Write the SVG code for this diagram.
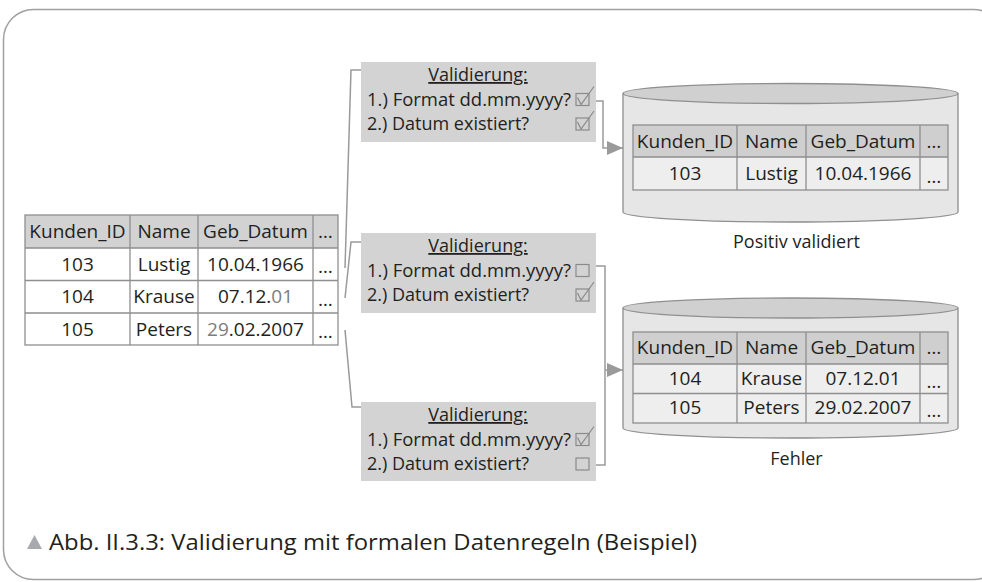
<svg xmlns="http://www.w3.org/2000/svg" width="982" height="582" viewBox="0 0 982 582">
<defs>
<style>
text{font-family:"Open Sans","Noto Sans","Liberation Sans",sans-serif;fill:#231f20;}
.t{font-size:19px;text-anchor:middle}
.v{font-size:18px}
.vt{font-size:18px;text-anchor:middle;text-decoration:underline}
.lbl{font-size:18px;text-anchor:middle}
.cap{font-size:22.5px}
.grid{stroke:#8f8f8f;stroke-width:1.3;fill:none}
.hdr{fill:#d2d2d2}
.hdr2{fill:#cfcfcf}
.row2{fill:#eeeeee}
.con{stroke:#9a9a9a;stroke-width:1.5;fill:none}
.box{fill:#d3d3d3}
.cb{fill:none;stroke:#8a8a8a;stroke-width:1.2}
.gr{fill:#7d7d7d}
.cylbody{fill:#e6e6e6;stroke:#8f8f8f;stroke-width:1.3}
.cyltop{fill:#d0d0d0;stroke:#8f8f8f;stroke-width:1.3}
</style>
<marker id="arr" markerUnits="userSpaceOnUse" markerWidth="16" markerHeight="14" refX="16" refY="7" orient="auto">
<path d="M0,0 L16,7 L0,14 z" fill="#9a9a9a"/>
</marker>
<g id="cbx"><rect x="0" y="-12" width="13" height="12" class="cb"/></g>
<g id="chk"><rect x="0" y="-12" width="13" height="12" class="cb"/><path d="M1.5,-8 L5,-1 L18,-19" class="cb"/></g>
</defs>

<rect x="3.5" y="9.5" width="1000" height="570" rx="30" fill="none" stroke="#a0a0a0" stroke-width="1.5"/>

<g id="connectors">
<path class="con" d="M345,268 L351,70 H361"/>
<path class="con" d="M345,298 L351,242 H361"/>
<path class="con" d="M345,330 L352,407 H361"/>
<path class="con" d="M596,101 H603 V148 H623" marker-end="url(#arr)"/>
<path class="con" d="M596,266 H605 V465 H596"/>
<path class="con" d="M605,370 H623" marker-end="url(#arr)"/>
</g>

<g id="source-table">
<rect x="25" y="215" width="313" height="33" class="hdr"/>
<rect x="25" y="248" width="313" height="97" fill="#ffffff"/>
<rect x="25" y="215" width="313" height="130" class="grid"/>
<path class="grid" d="M25,248 H338 M25,280.5 H338 M25,313 H338 M130,215 V345 M198,215 V345 M313,215 V345"/>
<text class="t" x="77.5" y="238">Kunden_ID</text>
<text class="t" x="164" y="238">Name</text>
<text class="t" x="255.5" y="238">Geb_Datum</text>
<text class="t" x="325.5" y="238">…</text>
<text class="t" x="77.5" y="271">103</text>
<text class="t" x="164" y="271">Lustig</text>
<text class="t" x="255.5" y="271">10.04.1966</text>
<text class="t" x="325.5" y="273">…</text>
<text class="t" x="77.5" y="303">104</text>
<text class="t" x="164" y="303">Krause</text>
<text class="t" x="255.5" y="303">07.12.<tspan class="gr">01</tspan></text>
<text class="t" x="325.5" y="306">…</text>
<text class="t" x="77.5" y="336">105</text>
<text class="t" x="164" y="336">Peters</text>
<text class="t" x="255.5" y="336"><tspan class="gr">29</tspan>.02.2007</text>
<text class="t" x="325.5" y="338">…</text>
</g>

<g id="validation-1">
<rect x="361" y="62" width="235" height="80" class="box"/>
<text class="vt" x="478" y="81">Validierung:</text>
<text class="v" x="367" y="105.5" textLength="204" lengthAdjust="spacingAndGlyphs">1.) Format dd.mm.yyyy?</text>
<text class="v" x="367" y="130">2.) Datum existiert?</text>
<use href="#chk" x="576" y="105.5"/>
<use href="#chk" x="576" y="130"/>
</g>

<g id="validation-2">
<rect x="361" y="233" width="235" height="80" class="box"/>
<text class="vt" x="478" y="252">Validierung:</text>
<text class="v" x="367" y="276.5" textLength="204" lengthAdjust="spacingAndGlyphs">1.) Format dd.mm.yyyy?</text>
<text class="v" x="367" y="301">2.) Datum existiert?</text>
<use href="#cbx" x="576" y="276.5"/>
<use href="#chk" x="576" y="301"/>
</g>

<g id="validation-3">
<rect x="361" y="402" width="235" height="79" class="box"/>
<text class="vt" x="478" y="421">Validierung:</text>
<text class="v" x="367" y="445.5" textLength="204" lengthAdjust="spacingAndGlyphs">1.) Format dd.mm.yyyy?</text>
<text class="v" x="367" y="470">2.) Datum existiert?</text>
<use href="#chk" x="576" y="445.5"/>
<use href="#cbx" x="576" y="470"/>
</g>

<g id="db-positive">
<path class="cylbody" d="M623,93.5 V212 A167.5,10 0 0 0 958,212 V93.5"/>
<ellipse class="cyltop" cx="790.5" cy="93.5" rx="167.5" ry="10"/>
<rect x="633" y="125" width="315" height="32" class="hdr2"/>
<rect x="633" y="157" width="315" height="33" class="row2"/>
<rect x="633" y="125" width="315" height="65" class="grid"/>
<path class="grid" d="M633,157 H948 M737,125 V190 M806,125 V190 M920,125 V190"/>
<text class="t" x="685" y="148">Kunden_ID</text>
<text class="t" x="771.5" y="148">Name</text>
<text class="t" x="863" y="148">Geb_Datum</text>
<text class="t" x="934" y="148">…</text>
<text class="t" x="685" y="180">103</text>
<text class="t" x="771.5" y="180">Lustig</text>
<text class="t" x="863" y="180">10.04.1966</text>
<text class="t" x="934" y="183">…</text>
<text class="lbl" x="796.5" y="248">Positiv validiert</text>
</g>

<g id="db-error">
<path class="cylbody" d="M623,308 V428 A167.5,10 0 0 0 958,428 V308"/>
<ellipse class="cyltop" cx="790.5" cy="308" rx="167.5" ry="10"/>
<rect x="633" y="332" width="315" height="32" class="hdr2"/>
<rect x="633" y="364" width="315" height="59" class="row2"/>
<rect x="633" y="332" width="315" height="91" class="grid"/>
<path class="grid" d="M633,364 H948 M633,393.5 H948 M737,332 V423 M806,332 V423 M920,332 V423"/>
<text class="t" x="685" y="354">Kunden_ID</text>
<text class="t" x="771.5" y="354">Name</text>
<text class="t" x="863" y="354">Geb_Datum</text>
<text class="t" x="934" y="354">…</text>
<text class="t" x="685" y="385">104</text>
<text class="t" x="771.5" y="385">Krause</text>
<text class="t" x="863" y="385">07.12.01</text>
<text class="t" x="934" y="388">…</text>
<text class="t" x="685" y="414">105</text>
<text class="t" x="771.5" y="414">Peters</text>
<text class="t" x="863" y="414">29.02.2007</text>
<text class="t" x="934" y="417">…</text>
<text class="lbl" x="796.5" y="465">Fehler</text>
</g>

<g id="caption">
<polygon points="27,549 34.5,535 42,549" fill="#a7a9ac"/>
<text class="cap" x="49" y="550" textLength="648" lengthAdjust="spacingAndGlyphs">Abb. II.3.3: Validierung mit formalen Datenregeln (Beispiel)</text>
</g>
</svg>
